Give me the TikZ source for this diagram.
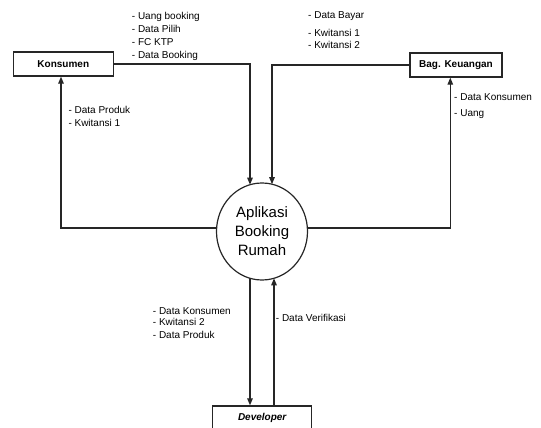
\documentclass[tikz,border=0pt]{standalone}
\usepackage{fontspec}
\setmainfont{Liberation Sans}
\usetikzlibrary{arrows.meta,shapes.geometric}
\begin{document}
\begin{tikzpicture}[x=1pt,y=-1pt,
  line/.style={draw=black!85, line width=1.2pt},
  flow/.style={line, -{Triangle[length=7pt,width=5.5pt]}},
  ent/.style={draw=black!85, line width=1.3pt, minimum height=24pt, inner sep=0pt, font=\bfseries\fontsize{10}{12}\selectfont},
  lbl/.style={anchor=base west, inner sep=0pt, font=\fontsize{10}{12}\selectfont}]
\useasboundingbox (0,0) rectangle (541,428);
\clip (0,0) rectangle (541,428);
% entities
\node[ent, minimum width=100pt] (k) at (63.3,64) {Konsumen};
\node[ent, minimum width=92pt] (b) at (456,65) {Bag. Keuangan};
\node[ent, minimum width=99pt, font=\bfseries\itshape\fontsize{10}{12}\selectfont] (d) at (262.2,418) {Developer};
\node[ellipse, draw=black!85, line width=1.2pt, minimum width=91pt, minimum height=97pt, inner sep=0pt,
      font=\fontsize{15}{19}\selectfont, align=center] (c) at (262,231.5) {Aplikasi\\Booking\\Rumah};
% border points
\coordinate (c1) at (250,184.7);
\coordinate (c2) at (272,184.2);
\coordinate (c3) at (216.6,228);
\coordinate (c4) at (307.4,228);
\coordinate (c5) at (250,278.3);
\coordinate (c6) at (274,278.3);
% flows
\draw[flow] (k.east) -| (c1);
\draw[flow] (b.west) -| (c2);
\draw[flow] (c3) -| ([xshift=-2.3pt]k.south);
\draw[flow] (c4) -| ([xshift=-5.7pt]b.south);
\draw[flow] (c5) -- (c5 |- d.north);
\draw[flow] (c6 |- d.north) -- (c6);
% labels
\node[lbl] (t1) at (131.7,19.5) {- Uang booking};
\node[lbl] (t2) at (131.7,32.8) {- Data Pilih};
\node[lbl] (t3) at (131.7,45.5) {- FC KTP};
\node[lbl] (t4) at (131.7,58.2) {- Data Booking};
\node[lbl] (r1) at (308,19) {- Data Bayar};
\node[lbl] (r2) at (308,36.7) {- Kwitansi 1};
\node[lbl] (r3) at (308,48.3) {- Kwitansi 2};
\node[lbl] (l1) at (68.3,113.2) {- Data Produk};
\node[lbl] (l2) at (68.3,126.7) {- Kwitansi 1};
\node[lbl] (g1) at (454,100.7) {- Data Konsumen};
\node[lbl] (g2) at (454,116.7) {- Uang};
\node[lbl] (b1) at (152.7,314) {- Data Konsumen};
\node[lbl] (b2) at (152.7,325.7) {- Kwitansi 2};
\node[lbl] (b3) at (152.7,338.3) {- Data Produk};
\node[lbl] (v1) at (275.7,321.7) {- Data Verifikasi};
\end{tikzpicture}
\end{document}
